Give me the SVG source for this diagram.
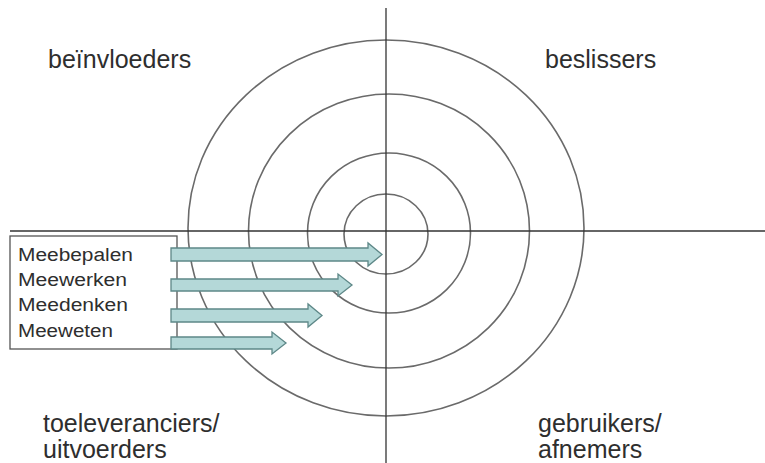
<svg xmlns="http://www.w3.org/2000/svg" width="765" height="463" viewBox="0 0 765 463">
<defs>
<style>
.ring{fill:none;stroke:#6a6a6a;stroke-width:1.6}
.axis{stroke:#333;stroke-width:1.3}
.lbl{font-family:"Liberation Sans",Arial,sans-serif;font-size:25px;fill:#2e2e2e}
.btxt{font-family:"Liberation Sans",Arial,sans-serif;font-size:18px;fill:#2e2e2e}
.box{fill:#fff;stroke:#555;stroke-width:1.3}
.arr{fill:#b4d8d8;stroke:#5e8888;stroke-width:1.3;stroke-linejoin:miter}
</style>
</defs>
<rect width="765" height="463" fill="#fff"/>
<g id="rings">
<ellipse class="ring" cx="386" cy="228" rx="198" ry="188"/>
<ellipse class="ring" cx="389" cy="231" rx="140.5" ry="137"/>
<ellipse class="ring" cx="389" cy="233" rx="81.5" ry="80"/>
<ellipse class="ring" cx="386" cy="234" rx="42" ry="40"/>
</g>
<g id="axes">
<line class="axis" x1="386" y1="8" x2="386" y2="463"/>
<line class="axis" x1="10" y1="231" x2="765" y2="231"/>
</g>
<g id="quadrant-labels">
<text class="lbl" x="48" y="68">beïnvloeders</text>
<text class="lbl" x="545" y="68">beslissers</text>
<text class="lbl" x="43" y="432">toeleveranciers/</text>
<text class="lbl" x="43" y="458">uitvoerders</text>
<text class="lbl" x="538" y="432">gebruikers/</text>
<text class="lbl" x="538" y="458">afnemers</text>
</g>
<g id="levels-box">
<rect class="box" x="10" y="236" width="167" height="113"/>
<text class="btxt" x="18" y="261" textLength="115" lengthAdjust="spacingAndGlyphs">Meebepalen</text>
<text class="btxt" x="18" y="286" textLength="109" lengthAdjust="spacingAndGlyphs">Meewerken</text>
<text class="btxt" x="18" y="311" textLength="110" lengthAdjust="spacingAndGlyphs">Meedenken</text>
<text class="btxt" x="18" y="337" textLength="95" lengthAdjust="spacingAndGlyphs">Meeweten</text>
</g>
<g id="connectors">
<polygon class="arr" points="171,248 368,248 368,243 382,254.5 368,266 368,261 171,261"/>
<polygon class="arr" points="171,279 338,279 338,274 352,285 338,296 338,291 171,291"/>
<polygon class="arr" points="171,309 308,309 308,304 322,315.5 308,327 308,322 171,322"/>
<polygon class="arr" points="171,337 272,337 272,332 286,343 272,354 272,349 171,349"/>
</g>
</svg>
